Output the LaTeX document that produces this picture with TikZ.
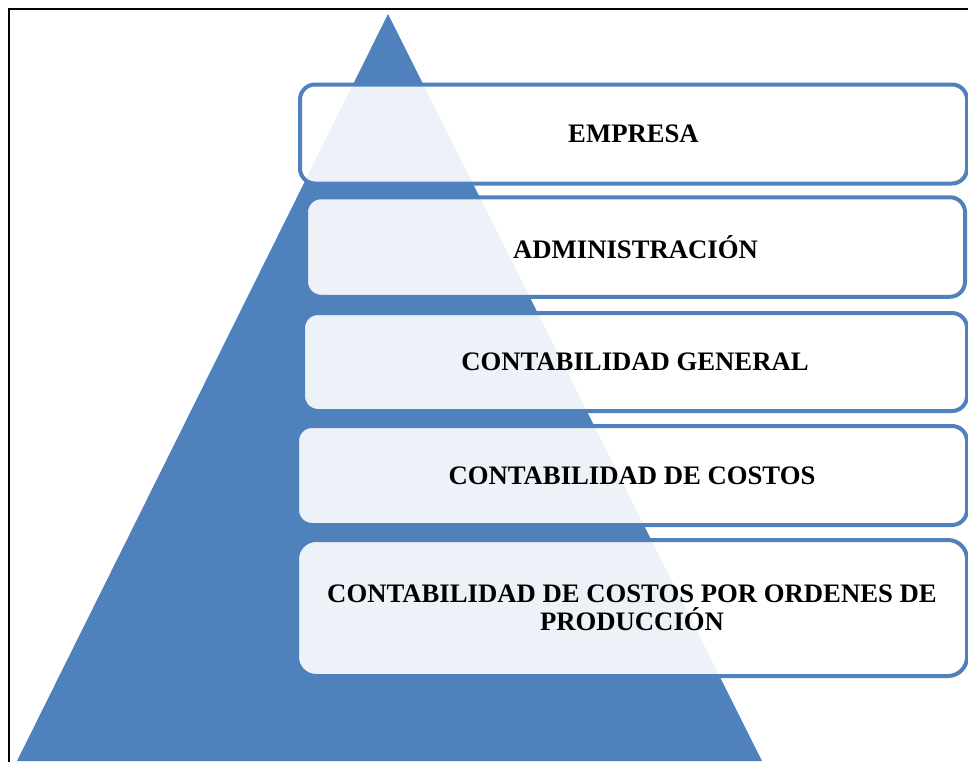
\documentclass[tikz,border=0pt]{standalone}
\usepackage{fontspec}
\setmainfont{Liberation Serif}
\usepackage{tikz}
\usetikzlibrary{positioning}
\definecolor{azul}{HTML}{4F81BD}

\begin{document}
\begin{tikzpicture}[x=1pt, y=-1pt,
        caja/.style={draw=azul, line width=4pt, fill=white, fill opacity=0.9, text opacity=1,
            rounded corners=15pt, align=center, inner sep=0pt,
            font=\fontsize{26.7}{28}\selectfont\bfseries}]
        \clip (0,0) rectangle (968,761);
        \draw [line width=2.3pt] (8.7,780) -- (8.7,8.7) -- (990,8.7);
        \fill [azul] (388,14) -- (762,761) -- (17,761) -- cycle;
        \node [caja, minimum width=667pt, minimum height=99pt] (empresa) at (633.5,134) {EMPRESA};
        \node [caja, minimum width=659pt, minimum height=99.5pt] (admin) at (635.5,247) {ADMINISTRACIÓN};
        \node [caja, minimum width=664pt, minimum height=98pt] (general) at (635,362) {CONTABILIDAD GENERAL};
        \node [caja, minimum width=670pt, minimum height=99pt] (costos) at (632,475.5) {CONTABILIDAD DE COSTOS};
        \node [caja, rounded corners=19pt, minimum width=670pt, minimum height=136pt] (ordenes) at (632,608)
            {CONTABILIDAD DE COSTOS POR ORDENES DE\\PRODUCCIÓN};
    \end{tikzpicture}
\end{document}
